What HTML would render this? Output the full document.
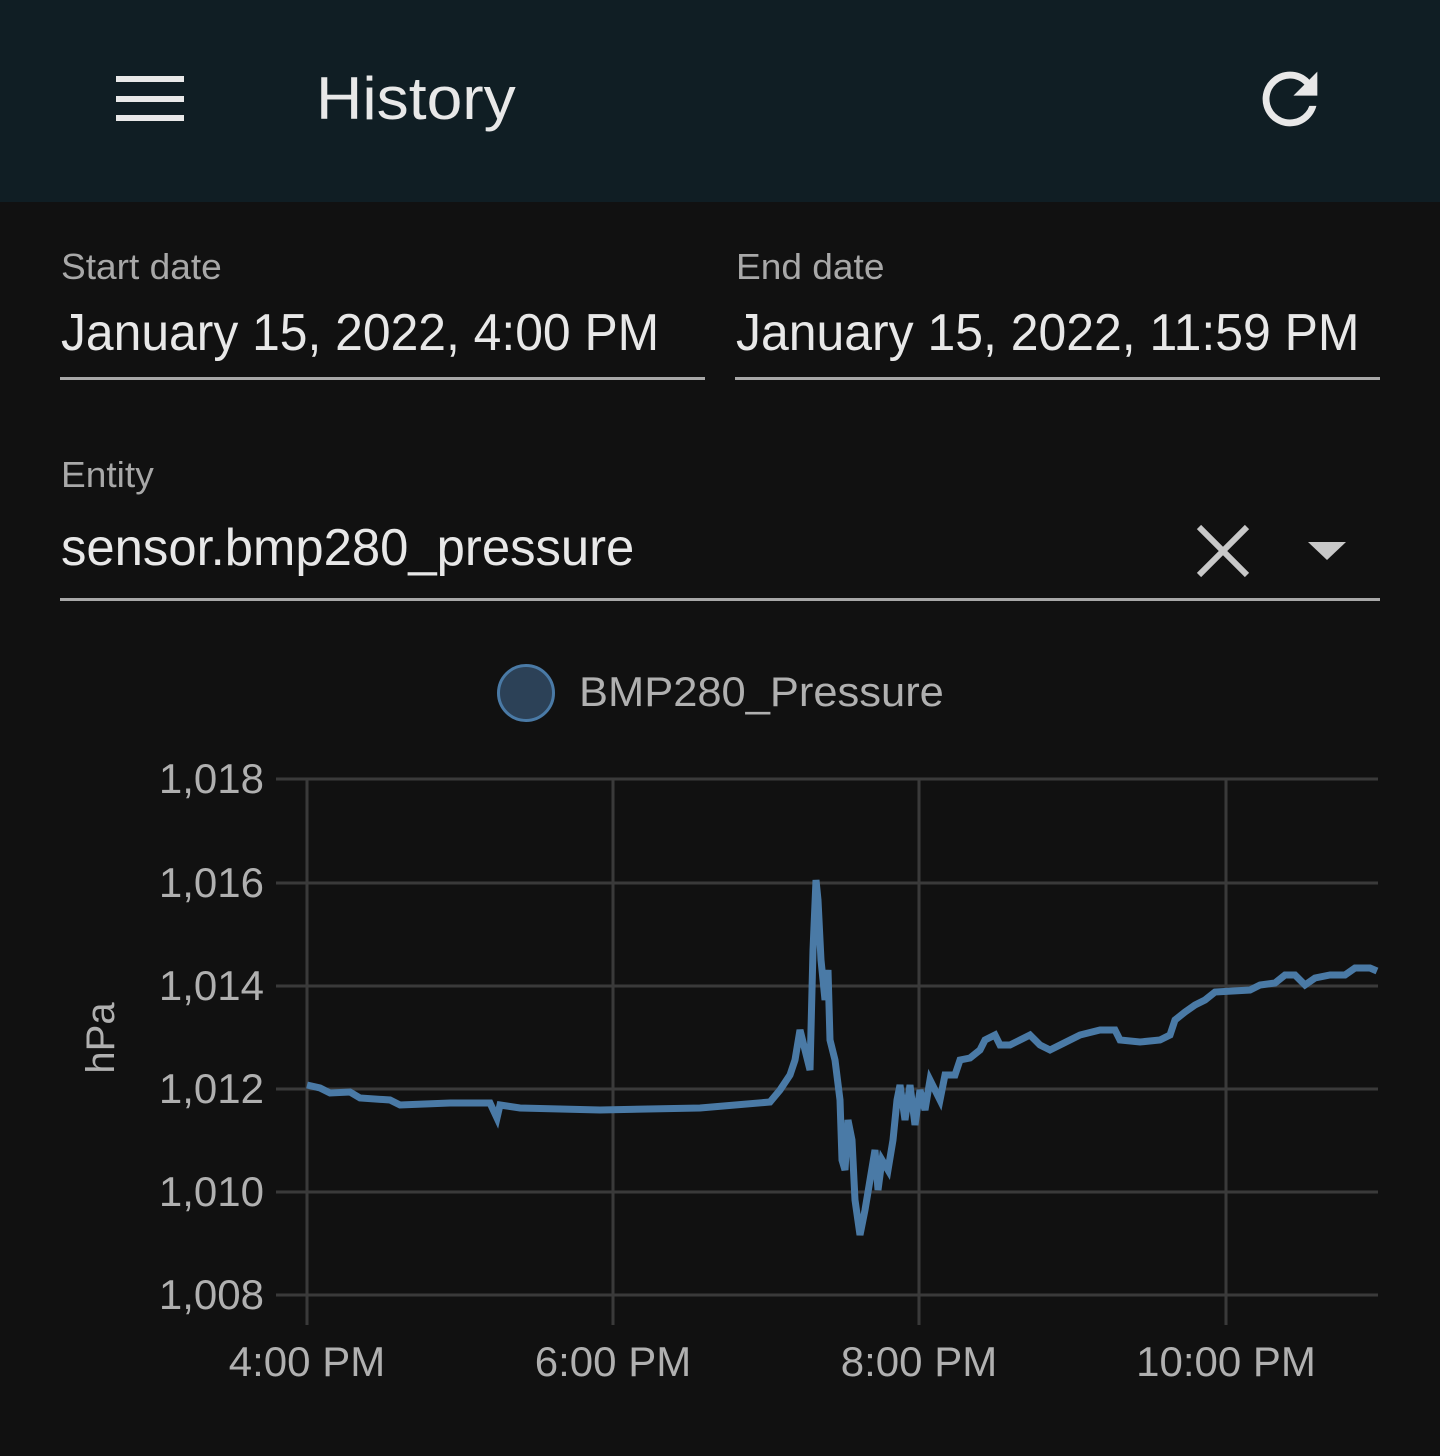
<!DOCTYPE html>
<html><head><meta charset="utf-8"><style>
html,body{margin:0;padding:0;background:#111111;width:1440px;height:1456px;overflow:hidden;font-family:"Liberation Sans","DejaVu Sans",sans-serif;}
.top{position:absolute;left:0;top:0;width:1440px;height:202px;background:#101e24;}
.t{position:absolute;white-space:nowrap;transform-origin:0 0;}
</style></head><body>
<div class="top">
  <div style="position:absolute;left:116px;top:76px;width:68px;height:6px;background:#e8e8e8"></div>
  <div style="position:absolute;left:116px;top:96px;width:68px;height:6px;background:#e8e8e8"></div>
  <div style="position:absolute;left:116px;top:115px;width:68px;height:6px;background:#e8e8e8"></div>
  <div class="t" style="left:316px;top:64px;font-size:60px;color:#e8e8e8;transform:scaleX(1.07)">History</div>
  <svg style="position:absolute;left:1248px;top:58px" width="84" height="82" viewBox="0 0 24 24"><path fill="#e8e8e8" d="M17.65 6.35A7.958 7.958 0 0 0 12 4a8 8 0 1 0 7.73 10h-2.08A6 6 0 1 1 12 6c1.66 0 3.140.69 4.220 1.780L13 11h7V4l-2.35 2.35z"/></svg>
</div>
<div class="t" style="left:61px;top:246px;font-size:36px;color:#a8a8a8;transform:scaleX(1.03)">Start date</div>
<div class="t" style="left:61px;top:303px;font-size:52px;color:#e8e8e8;transform:scaleX(0.958)">January 15, 2022, 4:00 PM</div>
<div style="position:absolute;left:60px;top:377px;width:645px;height:3px;background:#a8a8a8"></div>
<div class="t" style="left:736px;top:246px;font-size:36px;color:#a8a8a8;transform:scaleX(1.03)">End date</div>
<div class="t" style="left:736px;top:303px;font-size:52px;color:#e8e8e8;transform:scaleX(0.96)">January 15, 2022, 11:59 PM</div>
<div style="position:absolute;left:735px;top:377px;width:645px;height:3px;background:#a8a8a8"></div>
<div class="t" style="left:61px;top:454px;font-size:36px;color:#a8a8a8;transform:scaleX(1.03)">Entity</div>
<div class="t" style="left:61px;top:518px;font-size:52px;color:#e8e8e8;transform:scaleX(0.977)">sensor.bmp280_pressure</div>
<svg style="position:absolute;left:1195px;top:523px" width="56" height="56"><path d="M4 4L52 52M52 4L4 52" stroke="#c8c8c8" stroke-width="6"/></svg>
<svg style="position:absolute;left:1308px;top:540px" width="40" height="22"><path d="M0 2H38L19 20Z" fill="#c8c8c8"/></svg>
<div style="position:absolute;left:60px;top:598px;width:1320px;height:3px;background:#a8a8a8"></div>
<div style="position:absolute;left:497px;top:664px;width:58px;height:58px;border-radius:50%;background:#2c4157;border:3px solid #4a7aa6;box-sizing:border-box"></div>
<div class="t" style="left:579px;top:668px;font-size:42px;color:#b0b0b0;transform:scaleX(1.035)">BMP280_Pressure</div>
<svg style="position:absolute;left:0;top:0" width="1440" height="1456">
<g stroke="#3a3a3a" stroke-width="3">
<line x1="276" y1="779" x2="1378" y2="779"/><line x1="276" y1="883" x2="1378" y2="883"/><line x1="276" y1="986" x2="1378" y2="986"/><line x1="276" y1="1089" x2="1378" y2="1089"/><line x1="276" y1="1192" x2="1378" y2="1192"/><line x1="276" y1="1295" x2="1378" y2="1295"/>
<line x1="307" y1="779" x2="307" y2="1325"/><line x1="613" y1="779" x2="613" y2="1325"/><line x1="919" y1="779" x2="919" y2="1325"/><line x1="1226" y1="779" x2="1226" y2="1325"/>
</g>
<g font-size="42" fill="#b0b0b0" text-anchor="end" font-family="Liberation Sans,sans-serif">
<text x="264" y="793">1,018</text><text x="264" y="897">1,016</text><text x="264" y="1000">1,014</text><text x="264" y="1103">1,012</text><text x="264" y="1206">1,010</text><text x="264" y="1309">1,008</text>
</g>
<g font-size="42" fill="#b0b0b0" text-anchor="middle" font-family="Liberation Sans,sans-serif">
<text x="307" y="1376">4:00 PM</text><text x="613" y="1376">6:00 PM</text><text x="919" y="1376">8:00 PM</text><text x="1226" y="1376">10:00 PM</text>
<text transform="translate(114,1038) rotate(-90)" font-size="40">hPa</text>
</g>
<polyline fill="none" stroke="#4a7aa6" stroke-width="7" stroke-linejoin="miter" points="307,1085 320,1088 330,1093 350,1092 360,1098 390,1100 400,1105 450,1103 490,1103 497,1118 500,1105 520,1108 600,1110 700,1108 770,1102 780,1090 790,1075 795,1060 800,1030 805,1050 810,1070 813,950 816,880 818,900 821,960 825,1000 828,970 830,1040 835,1060 840,1100 842,1160 845,1170 848,1120 852,1140 855,1200 860,1235 865,1210 870,1180 875,1150 878,1190 882,1160 888,1170 893,1140 897,1100 900,1085 905,1120 910,1085 915,1125 920,1090 925,1110 930,1080 940,1100 945,1075 955,1075 960,1060 970,1058 980,1050 985,1040 995,1035 1000,1045 1010,1045 1020,1040 1030,1035 1040,1045 1050,1050 1060,1045 1070,1040 1080,1035 1100,1030 1115,1030 1120,1040 1140,1042 1160,1040 1170,1035 1175,1020 1185,1012 1195,1005 1205,1000 1215,992 1250,990 1260,985 1275,983 1285,975 1295,975 1305,985 1315,978 1330,975 1345,975 1355,968 1370,968 1377,971"/>
</svg>
</body></html>
